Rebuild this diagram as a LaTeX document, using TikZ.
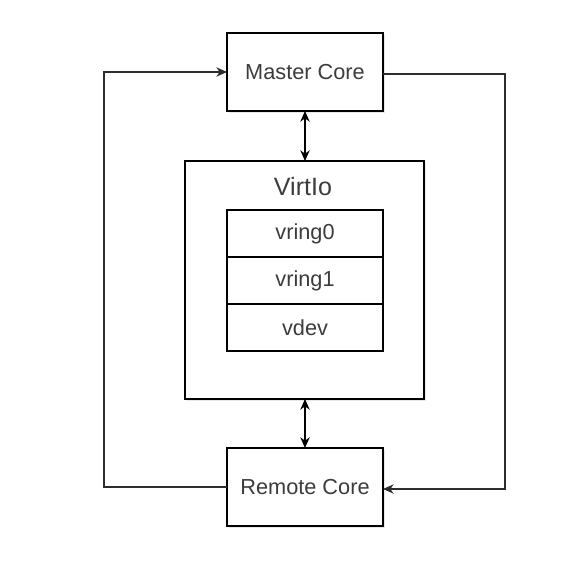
\documentclass[tikz,border=0pt]{standalone}
\usepackage{fontspec}
\setmainfont{Liberation Sans}
\usepackage{tikz}
\usetikzlibrary{arrows.meta, positioning, shadows}
\definecolor{line_colour}{RGB}{45, 45, 45}
\definecolor{text_colour}{RGB}{60, 60, 60}

\begin{document}
\begin{tikzpicture}[
    x=0.75pt, y=-0.75pt,
    >={Stealth[length=8pt, width=7pt, inset=2.5pt]},
    every node/.style={font=\fontsize{16.3}{19}\selectfont, text=text_colour},
    core/.style={draw=black, line width=1pt, fill=white, outer sep=0pt,
                minimum width=117pt, minimum height=58.5pt,
                drop shadow={opacity=0.18, shadow xshift=1.5pt, shadow yshift=-1.5pt}},
    container/.style={draw=black, line width=1pt, fill=white, outer sep=0pt,
                minimum width=179.25pt, minimum height=178.5pt,
                drop shadow={opacity=0.18, shadow xshift=1.5pt, shadow yshift=-1.5pt}},
    ring/.style={draw=black, line width=1pt, fill=white, outer sep=0pt,
                minimum width=117pt, minimum height=35.25pt},
    arr/.style={->, line width=1pt, line_colour},
    arr2/.style={<->, line width=1pt, black},
]
\useasboundingbox (0,0) rectangle (585,574);

\node[core]      (master) at (305, 72)    {Master Core};
\node[container] (virtio) at (304.5, 280) {};
\node[font=\fontsize{18.8}{22}\selectfont] (vtitle) at (303, 187) {VirtIo};
\node[ring]      (vring0) at (305, 233.5) {vring0};
\node[ring, below=0pt of vring0] (vring1) {vring1};
\node[ring, below=0pt of vring1] (vdev)   {vdev};
\node[core]      (remote) at (305, 487)   {Remote Core};

\coordinate (lft) at (104, 280);
\coordinate (rgt) at (505, 280);

\draw[arr2] (master.south) -- (virtio.north -| master.south);
\draw[arr2] (virtio.south -| remote.north) -- (remote.north);
\draw[arr] (remote.west) -| (lft) |- (master.west);
\draw[arr] ([yshift=-1.5pt]master.east) -| (rgt) |- ([yshift=-1.5pt]remote.east);
\end{tikzpicture}
\end{document}
